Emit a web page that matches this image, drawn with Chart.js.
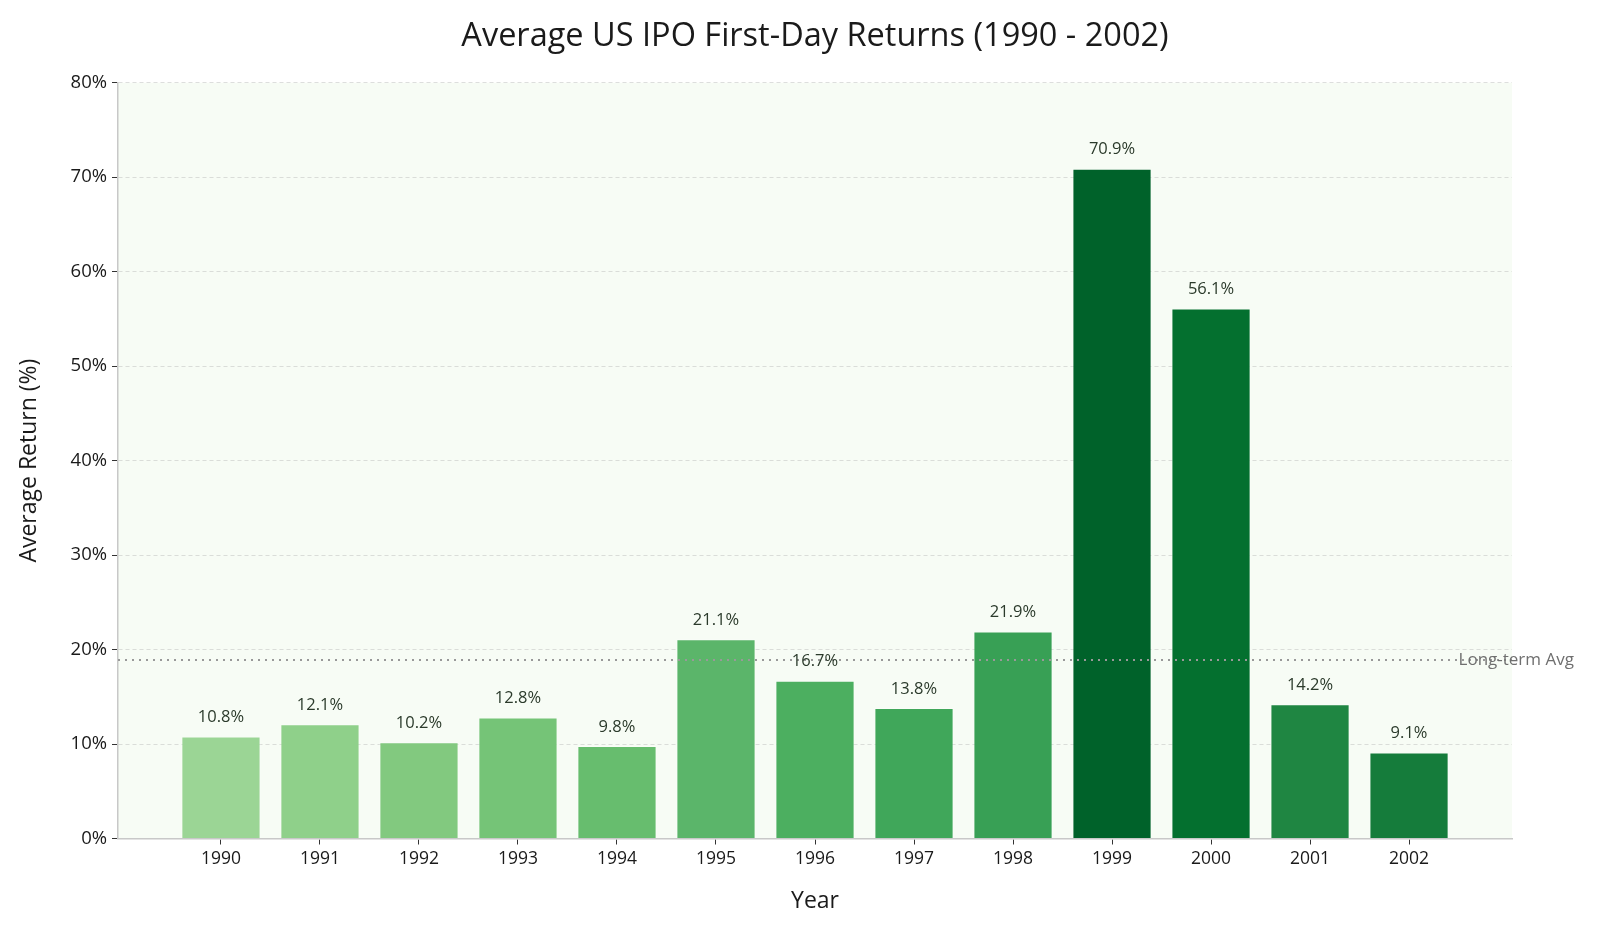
<!DOCTYPE html>
<html>
<head>
<meta charset="utf-8">
<script src="https://cdn.jsdelivr.net/npm/chart.js@4.4.1/dist/chart.umd.min.js"></script>
<style>
  html, body { margin: 0; padding: 0; background: #fff; }
  #wrap { width: 1600px; height: 933px; position: relative; }
</style>
</head>
<body>
<div id="wrap"><canvas id="ipoChart"></canvas></div>
<script>
const years = [1990, 1991, 1992, 1993, 1994, 1995, 1996, 1997, 1998, 1999, 2000, 2001, 2002];
const returns = [10.8, 12.1, 10.2, 12.8, 9.8, 21.1, 16.7, 13.8, 21.9, 70.9, 56.1, 14.2, 9.1];
const barColors = ['#9bd595', '#8fd08a', '#82c97f', '#75c477', '#67bd6e', '#5bb56a', '#4caf60',
                   '#40a75a', '#38a055', '#00622a', '#04702f', '#1f8642', '#157c3b'];
const longTermAvg = 18.9;
const avgLabel = 'Long-term Avg';
const chartTitle = 'Average US IPO First-Day Returns (1990 - 2002)';

const FONT = '"Open Sans"';
Chart.defaults.font.family = FONT;
Chart.defaults.color = '#222';

// title centred over the plot, value labels over bars, text at the end of the average line
const labelPlugin = {
    id: 'labels',
    afterDraw(chart) {
        const ctx = chart.ctx;
        const a = chart.chartArea;
        ctx.save();
        ctx.font = '32.5px ' + FONT;
        ctx.fillStyle = '#1a1a1a';
        ctx.textAlign = 'center';
        ctx.textBaseline = 'middle';
        ctx.fillText(chartTitle, (a.left + a.right) / 2, 37);
        ctx.restore();
    },
    afterDatasetsDraw(chart) {
        const ctx = chart.ctx;
        const meta = chart.getDatasetMeta(1);
        ctx.save();
        ctx.font = '16.5px ' + FONT;
        ctx.fillStyle = '#2b3a2b';
        ctx.textAlign = 'center';
        ctx.textBaseline = 'middle';
        meta.data.forEach((bar, i) => {
            ctx.fillText(returns[i].toFixed(1) + '%', bar.x, bar.y - 19);
        });
        const x = chart.scales.x.getPixelForValue(years[years.length - 1] + 0.5);
        const y = chart.scales.y.getPixelForValue(longTermAvg);
        ctx.font = '17px ' + FONT;
        ctx.fillStyle = '#6f6f6f';
        ctx.textAlign = 'left';
        ctx.fillText(avgLabel, x, y);
        ctx.restore();
    }
};

const plotBg = {
    id: 'plotBg',
    beforeDraw(chart) {
        const a = chart.chartArea;
        chart.ctx.save();
        chart.ctx.fillStyle = '#f7fcf5';
        chart.ctx.fillRect(a.left, a.top, a.right - a.left, a.bottom - a.top);
        chart.ctx.restore();
    }
};

const xMin = years[0] - 1.04;
const xMax = years[years.length - 1] + 1.04;

new Chart(document.getElementById('ipoChart'), {
    type: 'bar',
    data: {
        datasets: [{
            type: 'line',
            data: [{x: xMin, y: longTermAvg}, {x: xMax, y: longTermAvg}],
            borderColor: '#999',
            borderWidth: 2,
            borderDash: [2, 5],
            pointRadius: 0,
            order: 0
        }, {
            type: 'bar',
            data: years.map((y, i) => ({x: y, y: returns[i]})),
            backgroundColor: barColors,
            borderColor: 'rgba(255,255,255,0.35)',
            borderWidth: 1,
            barPercentage: 1.0,
            categoryPercentage: 0.8,
            order: 1
        }]
    },
    options: {
        responsive: true,
        maintainAspectRatio: false,
        animation: false,
        layout: { padding: { left: 0, right: 88, top: 82.7, bottom: 0 } },
        plugins: {
            legend: { display: false },
            tooltip: { enabled: false },
            title: { display: false }
        },
        scales: {
            x: {
                type: 'linear',
                offset: false,
                min: xMin,
                max: xMax,
                afterBuildTicks: s => {
                    s.ticks = s.ticks.filter(t => t.value >= years[0] && t.value <= years[years.length - 1]);
                },
                afterFit: s => { s.height = 933 - 838.5; },
                ticks: {
                    stepSize: 1,
                    includeBounds: false,
                    autoSkip: false,
                    maxRotation: 0,
                    padding: 4,
                    font: { size: 17.5 },
                    color: '#1a1a1a',
                    callback: v => String(v)
                },
                grid: {
                    offset: false,
                    drawOnChartArea: false,
                    drawTicks: true,
                    tickLength: 6,
                    tickColor: '#333'
                },
                border: { color: '#c8c8c8', width: 1.5 },
                title: {
                    display: true,
                    text: 'Year',
                    font: { size: 23 },
                    color: '#1a1a1a',
                    padding: { top: 0, bottom: 18 }
                }
            },
            y: {
                min: 0,
                max: 80,
                z: 1,
                afterFit: s => { s.width = 118; },
                ticks: {
                    stepSize: 10,
                    padding: 5,
                    font: { size: 18.5 },
                    color: '#1a1a1a',
                    callback: v => v + '%'
                },
                grid: {
                    color: 'rgba(190,190,190,0.5)',
                    lineWidth: 1,
                    tickLength: 6,
                    tickColor: '#333',
                    tickBorderDash: [],
                    tickWidth: 1
                },
                border: { color: '#c8c8c8', width: 1.5, dash: [4, 3] },
                title: {
                    display: true,
                    text: 'Average Return (%)',
                    font: { size: 23 },
                    color: '#1a1a1a',
                    padding: { top: 16, bottom: 0 }
                }
            }
        }
    },
    plugins: [plotBg, labelPlugin]
});
</script>
</body>
</html>
